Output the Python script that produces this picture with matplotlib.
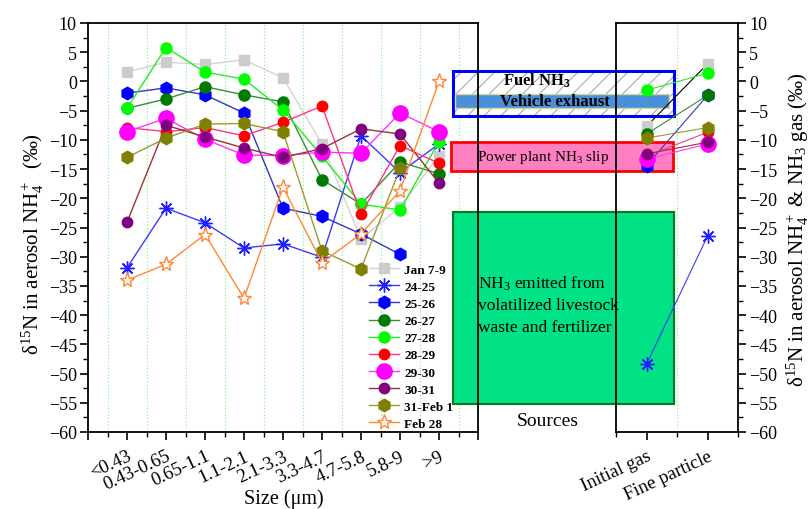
import numpy as np
import matplotlib
matplotlib.use('Agg')
import matplotlib.pyplot as plt
import matplotlib.transforms as mtransforms
from matplotlib.patches import Rectangle
from matplotlib.ticker import MultipleLocator

plt.rcParams['font.family'] = ['Liberation Serif', 'DejaVu Serif']
plt.rcParams['mathtext.fontset'] = 'custom'
plt.rcParams['mathtext.rm'] = 'Liberation Serif'
plt.rcParams['mathtext.it'] = 'Liberation Serif:italic'
plt.rcParams['mathtext.bf'] = 'Liberation Serif:bold'
plt.rcParams['hatch.linewidth'] = 0.8

nan = np.nan
sizes = ['<0.43', '0.43-0.65', '0.65-1.1', '1.1-2.1', '2.1-3.3',
         '3.3-4.7', '4.7-5.8', '5.8-9', '>9']
dates = ['Jan 7-9', '24-25', '25-26', '26-27', '27-28',
         '28-29', '29-30', '30-31', '31-Feb 1', 'Feb 28']

jan7_9 = [1.6, 3.3, 2.9, 3.7, 0.6, -10.7, -27.0, -21.5, -12.7]
d24_25 = [-31.9, -21.7, -24.2, -28.5, -27.8, -30.1, -9.3, -15.6, -10.7]
d25_26 = [-2.0, -1.1, -2.3, -5.4, -21.7, -23.1, -26.1, -29.6, nan]
d26_27 = [-4.6, -3.0, -0.9, -2.3, -3.5, -16.8, -21.0, -13.8, -15.8]
d27_28 = [-4.6, 5.8, 1.6, 0.4, -4.9, -12.8, -21.0, -22.0, -10.3]
d28_29 = [-7.9, -8.6, -7.9, -9.3, -7.0, -4.2, -22.7, -11.0, -14.0]
d29_30 = [-8.6, -6.3, -9.9, -12.6, -12.7, -12.1, -12.3, -5.4, -8.6]
d30_31 = [-24.1, -7.5, -9.5, -11.4, -13.0, -11.5, -8.1, -9.0, -17.4]
d31_feb1 = [-13.0, -9.7, -7.3, -7.2, -8.6, -29.0, -32.1, -14.9, nan]
feb28 = [-34.0, -31.3, -26.2, -37.1, -18.1, -31.0, -26.1, -18.7, 0.0]
series = [jan7_9, d24_25, d25_26, d26_27, d27_28, d28_29, d29_30, d30_31, d31_feb1, feb28]

# right panel: initial gas -> fine particle (no Feb 28)
stages = ['Initial gas', 'Fine particle']
initial_gas = [-7.7, -48.4, -14.4, -9.0, -1.5, -12.8, -13.3, -12.4, -9.7]
fine_particle = [3.0, -26.5, -2.4, -2.4, 1.4, -8.7, -10.7, -10.4, -7.9]

# sources (delta15N ranges)
fuel_rng = (-5.9, 1.8)
vehicle_rng = (-4.6, -2.2)
power_rng = (-15.3, -10.4)
livestock_rng = (-55.2, -22.3)

styles = [
    dict(color='#d3d3d3', marker='s', mfc='#cccccc', mec='#cccccc', ms=7),
    dict(color='#3a3aff', marker=(8, 2, 0), mfc='#2020ff', mec='#2020ff', ms=10, mew=1),
    dict(color='#3535c0', marker='h', mfc='#0000ff', mec='#0000ff', ms=9),
    dict(color='#3a8a3a', marker='o', mfc='#007a00', mec='#007a00', ms=8),
    dict(color='#22ee22', marker='o', mfc='#00ff00', mec='#00ff00', ms=8),
    dict(color='#ff3388', marker='o', mfc='#ff0000', mec='#ff0000', ms=7.5),
    dict(color='#ff33ff', marker='o', mfc='#ff00ff', mec='#ff00ff', ms=11),
    dict(color='#993333', marker='o', mfc='#800080', mec='#800080', ms=7.5),
    dict(color='#999933', marker='h', mfc='#808000', mec='#808000', ms=9),
    dict(color='#ff8833', marker='*', mfc='white', mec='#ff8833', ms=11, mew=1),
]

fig = plt.figure(figsize=(8.11, 5.10), dpi=100)
W, H = 811.0, 510.0
ax = fig.add_axes([88 / W, 1 - 433 / H, (478 - 88) / W, (433 - 24) / H])
ax2 = fig.add_axes([616 / W, 1 - 433 / H, (738 - 616) / W, (433 - 24) / H])
ax2.set_facecolor('none')

x = np.arange(1, len(sizes) + 1)
for vals, lab, st in zip(series, dates, styles):
    ax.plot(x, vals, lw=1.0, label=lab, **st)

ax.set_xlim(0, 10)
ax.set_ylim(-60, 10)
ax.set_xticks(range(11))
ax.set_xticklabels([''] + sizes + [''], rotation=25, ha='right',
                   rotation_mode='anchor', fontsize=13.5)
ax.xaxis.set_minor_locator(MultipleLocator(0.5))
ax.yaxis.set_major_locator(MultipleLocator(5))
ax.yaxis.set_minor_locator(MultipleLocator(2.5))
ax.tick_params(axis='both', which='major', direction='out', length=6, width=1.2,
               labelsize=13)
ax.tick_params(axis='both', which='minor', direction='out', length=3.5, width=1.0)
ax.tick_params(axis='x', which='major', pad=5, labelsize=13.5)
ax.tick_params(axis='y', which='major', pad=2)
for xg in np.arange(0.5, 10, 1.0):
    ax.axvline(xg, color='#7cf07c', lw=0.8, ls=(0, (1, 2)), zorder=1.5)
for s in ax.spines.values():
    s.set_linewidth(1.3)

fig.text(284 / W, 1 - 499 / H, 'Size (\u03bcm)', ha='center', va='center', fontsize=14.5)
fig.text(33 / W, 1 - 244 / H, '\u03b4$^{15}$N in aerosol NH$_4^+$  (\u2030)',
         rotation=90, ha='center', va='center', fontsize=15)
fig.text(798 / W, 1 - 230 / H, '\u03b4$^{15}$N in aerosol NH$_4^+$ & NH$_3$ gas (\u2030)',
         rotation=90, ha='center', va='center', fontsize=15)

leg = ax.legend(loc='upper left', bbox_to_anchor=((362 - 88) / 390, 1 - (258 - 24) / 409),
                frameon=False, prop={'weight': 'bold', 'size': 9.5},
                handlelength=2.3, handletextpad=0.4, labelspacing=0.37, borderpad=0)

# right panel
xr = [1, 3]
for i, st in enumerate(styles[:9]):
    st2 = dict(st)
    if i == 0:
        st2['color'] = 'black'
    ax2.plot(xr, [initial_gas[i], fine_particle[i]], lw=0.8, **st2)
ax2.set_xlim(0, 4)
ax2.set_ylim(-60, 10)
ax2.set_xticks(xr)
ax2.set_xticklabels(stages, rotation=25, ha='right', rotation_mode='anchor', fontsize=13.5)
ax2.xaxis.set_minor_locator(MultipleLocator(1))
ax2.axvline(2, color='#7cf07c', lw=0.8, ls=(0, (1, 2)), zorder=1.5)
ax2.yaxis.tick_right()
ax2.yaxis.set_major_locator(MultipleLocator(5))
ax2.yaxis.set_minor_locator(MultipleLocator(2.5))
ax2.tick_params(axis='both', which='major', direction='out', length=6, width=1.2,
                labelsize=13)
ax2.tick_params(axis='both', which='minor', direction='out', length=3.5, width=1.0)
ax2.tick_params(axis='x', which='minor', labelbottom=False)
ax2.tick_params(axis='x', which='major', pad=5, labelsize=13.5)
ax2.tick_params(axis='y', which='major', pad=2)
for s in ax2.spines.values():
    s.set_linewidth(1.3)

# source boxes spanning the gap
tr = mtransforms.blended_transform_factory(fig.transFigure, ax.transData)

def box(x0, x1, rng, **kw):
    r = Rectangle((x0 / W, rng[0]), (x1 - x0) / W, rng[1] - rng[0],
                  transform=tr, clip_on=False, zorder=1.7, **kw)
    ax.add_patch(r)

box(453, 674, fuel_rng, facecolor='white', edgecolor='#aaaaaa', lw=0, hatch='//')
box(453, 674, fuel_rng, fill=False, edgecolor='#0000ff', lw=2.2)
box(455, 669, vehicle_rng, facecolor='#4a90d9', edgecolor='#d8d890', lw=1.0)
box(451, 673, power_rng, facecolor='#ff80c0', edgecolor='#ff0000', lw=2.0)
box(453, 674, livestock_rng, facecolor='#00e284', edgecolor='#0a7a20', lw=1.5)

ax.text(537 / W, 0.2, 'Fuel NH$_\\mathbf{3}$', transform=tr, ha='center', va='center',
        fontsize=12, fontweight='bold', zorder=5, clip_on=False)
ax.text(555 / W, -3.4, 'Vehicle exhaust', transform=tr, ha='center', va='center',
        fontsize=12, fontweight='bold', zorder=5, clip_on=False)
ax.text(543 / W, -12.9, 'Power plant NH$_3$ slip', transform=tr, ha='center', va='center',
        fontsize=11, zorder=5, clip_on=False)
ax.text(478 / W, -38.1, 'NH$_3$ emitted from\nvolatilized livestock\nwaste and fertilizer',
        transform=tr, ha='left', va='center', fontsize=12.5, linespacing=1.45,
        zorder=5, clip_on=False)
fig.text(548 / W, 1 - 422 / H, 'Sources', ha='center', va='center', fontsize=14)

fig.savefig('out.png', dpi=100)
